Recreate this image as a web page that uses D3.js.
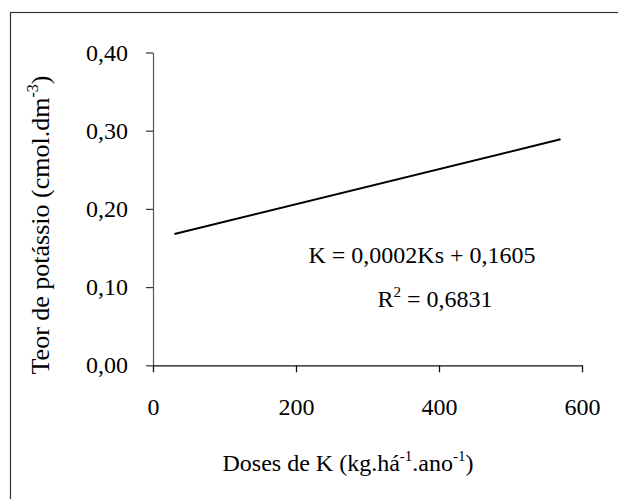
<!DOCTYPE html>
<html>
<head>
<meta charset="utf-8">
<script src="https://cdn.jsdelivr.net/npm/d3@7"></script>
<style>
  html, body { margin: 0; padding: 0; background: #fff; }
  svg text { font-family: "Liberation Serif", "Times New Roman", serif; fill: #000; }
</style>
</head>
<body>
<svg id="chart" width="618" height="499"></svg>
<script>
// Data
const doses = [30, 570];              // kg/ha/ano, ends of the fitted line
const teor = [0.168, 0.289];          // cmol/dm3
const xTicks = [0, 200, 400, 600];
const yTicks = [0.0, 0.1, 0.2, 0.3, 0.4];
const equationText = "K = 0,0002Ks + 0,1605";
const r2Value = "0,6831";

const SERIF = "'Liberation Serif', 'Times New Roman', serif";
const svg = d3.select("#chart");
const fmtY = v => d3.format(".2f")(v).replace(".", ",");

const x = d3.scaleLinear().domain([0, 600]).range([153, 582]);
const y = d3.scaleLinear().domain([0, 0.4]).range([365.3, 52.5]);

// frame
svg.append("rect")
  .attr("x", 10.5).attr("y", 12.5)
  .attr("width", 700).attr("height", 600)
  .attr("fill", "none").attr("stroke", "#333").attr("stroke-width", 1.2);

// y axis
const gy = svg.append("g")
  .attr("transform", `translate(${x(0)},0)`)
  .attr("font-family", SERIF)
  .call(d3.axisLeft(y).tickValues(yTicks).tickFormat(fmtY)
    .tickSize(7).tickSizeOuter(0).tickPadding(18));
gy.attr("font-family", SERIF);
gy.select(".domain").attr("stroke", "#555").attr("stroke-width", 1.2);
gy.selectAll(".tick line").attr("stroke", "#333").attr("stroke-width", 1.2);
gy.selectAll(".tick text").attr("font-size", 24).style("font-family", SERIF);

// x axis
const gx = svg.append("g")
  .attr("transform", `translate(0,${y(0)})`)
  .call(d3.axisBottom(x).tickValues(xTicks).tickFormat(d3.format("d"))
    .tickSize(7).tickSizeOuter(0).tickPadding(26));
gx.attr("font-family", SERIF);
gx.select(".domain").attr("stroke", "#111").attr("stroke-width", 1.3);
gx.selectAll(".tick line").attr("stroke", "#111").attr("stroke-width", 1.3);
gx.selectAll(".tick text").attr("font-size", 24).style("font-family", SERIF);

// fitted line
const pts = doses.map((d, i) => [d, teor[i]]);
svg.append("path")
  .datum(pts)
  .attr("fill", "none").attr("stroke", "#000").attr("stroke-width", 2)
  .attr("d", d3.line().x(d => x(d[0])).y(d => y(d[1])));

// equation
svg.append("text")
  .attr("x", 422).attr("y", 263)
  .attr("text-anchor", "middle").attr("font-size", 24)
  .text(equationText);

const r2 = svg.append("text")
  .attr("x", 435).attr("y", 307)
  .attr("text-anchor", "middle").attr("font-size", 24);
r2.append("tspan").text("R");
r2.append("tspan").attr("font-size", 15).attr("dy", -10).text("2");
r2.append("tspan").attr("dy", 10).text(" = " + r2Value);

// x label
const xl = svg.append("text")
  .attr("x", 348).attr("y", 471)
  .attr("text-anchor", "middle").attr("font-size", 24);
xl.append("tspan").text("Doses de K (kg.há");
xl.append("tspan").attr("font-size", 15).attr("dy", -10).text("-1");
xl.append("tspan").attr("dy", 10).text(".ano");
xl.append("tspan").attr("font-size", 15).attr("dy", -10).text("-1");
xl.append("tspan").attr("dy", 10).text(")");

// y label
const yl = svg.append("text")
  .attr("transform", "translate(49,225) rotate(-90)")
  .attr("text-anchor", "middle").attr("font-size", 26);
yl.append("tspan").text("Teor de potássio (cmol.dm");
yl.append("tspan").attr("font-size", 16).attr("dy", -11).text("-3");
yl.append("tspan").attr("dy", 11).text(")");
</script>
</body>
</html>
